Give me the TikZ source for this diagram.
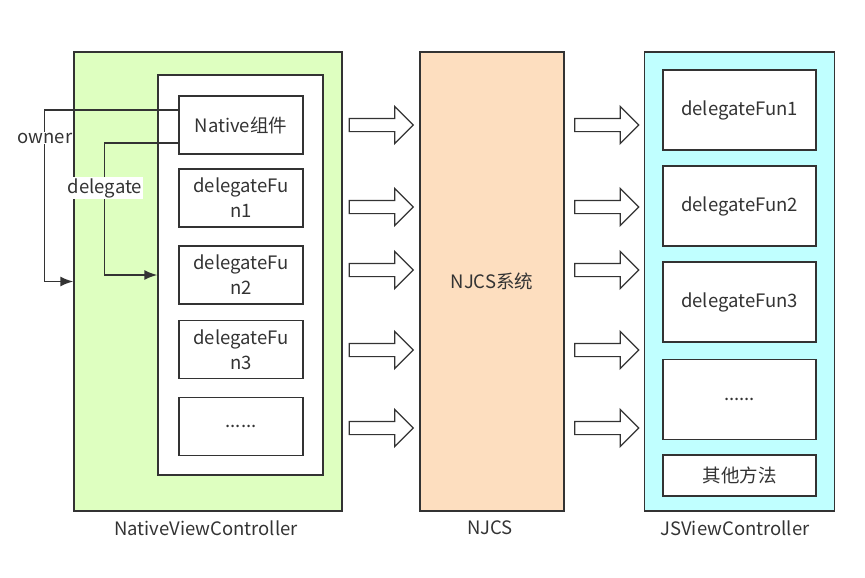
\documentclass[tikz,border=0pt]{standalone}
\usepackage{fontspec}
\setmainfont{Noto Sans CJK SC}
\usetikzlibrary{shapes.arrows,arrows.meta}
\definecolor{nvcgreen}{RGB}{222,255,192}
\definecolor{njcspeach}{RGB}{253,222,191}
\definecolor{jscyan}{RGB}{192,255,255}
\definecolor{edge}{RGB}{51,51,51}

\begin{document}
\begin{tikzpicture}[x=1pt,y=-1pt,
                        font=\fontsize{18.5}{25}\selectfont,
                        every node/.style={inner sep=0pt,text=edge},
                        panel/.style={draw=edge,line width=1.5pt,minimum height=459pt},
                        box/.style={draw=edge,line width=1.5pt,fill=white,align=center},
                        hollow/.style={single arrow,draw=edge,line width=1.2pt,fill=white,
                                inner xsep=0pt,inner ysep=6pt,
                                minimum height=64pt,
                                single arrow head extend=12pt,single arrow head indent=0pt},
                        link/.style={draw=edge,line width=1.5pt,-{Latex[length=13pt,width=10pt]}}]
    \useasboundingbox (0,0) rectangle (865,578);
    \node[panel,fill=nvcgreen,minimum width=268pt] (nvc) at (208,281.5) {};
    \node[panel,fill=njcspeach,minimum width=144pt] (njcs) at (492,281.5) {NJCS系统};
    \node[panel,fill=jscyan,minimum width=190pt] (jsvc) at (739.5,281.5) {};
    \node[box,minimum width=165pt,minimum height=400pt] (inner) at (240.5,275) {};
    \node[box,minimum width=124pt,minimum height=58pt] (native) at (241,125) {Native组件};
    \node[box,minimum width=124pt,minimum height=58pt] (nfun1) at (241,198) {delegateFu\\n1};
    \node[box,minimum width=124pt,minimum height=58pt] (nfun2) at (241,275) {delegateFu\\n2};
    \node[box,minimum width=124pt,minimum height=58pt] (nfun3) at (241,349.5) {delegateFu\\n3};
    \node[box,minimum width=124pt,minimum height=58pt] (nmore) at (241,426.5) {......};
    \node[box,minimum width=153pt,minimum height=80pt] (jfun1) at (739.5,110) {delegateFun1};
    \node[box,minimum width=153pt,minimum height=80pt] (jfun2) at (739.5,206) {delegateFun2};
    \node[box,minimum width=153pt,minimum height=80pt] (jfun3) at (739.5,302) {delegateFun3};
    \node[box,minimum width=153pt,minimum height=80pt] (jmore) at (739.5,399.5) {......};
    \node[box,minimum width=153pt,minimum height=41pt] (jother) at (739.5,475.5) {其他方法};
    \node (nvclabel) at (206,528) {NativeViewController};
    \node (njcslabel) at (490,528) {NJCS};
    \node (jsvclabel) at (735,528) {JSViewController};
    \foreach \y [count=\i] in {125,207,270,350,428}
    {
        \node[hollow] (la\i) at (378,\y) {};
        \node[hollow] (ra\i) at (603.5,\y) {};
    }
    \draw[link] ([yshift=15pt]native.west) -| ([xshift=-29pt]nvc.west) -- (nvc.west);
    \draw[link] ([yshift=-18pt]native.west) -| ([xshift=-53pt]inner.west) -- (inner.west);
    \node[fill=white,inner sep=1pt] (owner) at (45,138) {owner};
    \node[fill=white,inner sep=1pt] (delegate) at (105,188) {delegate};
\end{tikzpicture}
\end{document}
